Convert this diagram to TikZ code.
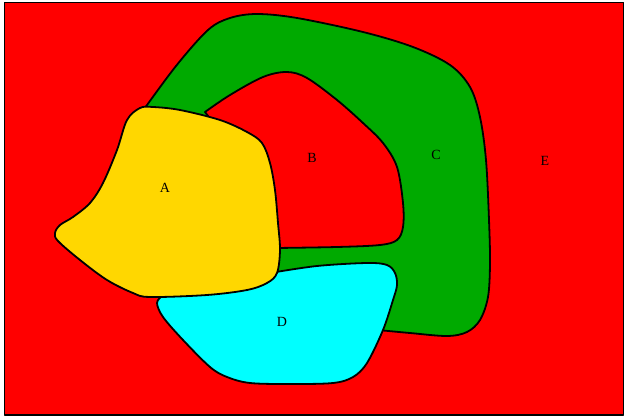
\documentclass[tikz,border=0pt]{standalone}
\usepackage{fontspec}
\setmainfont{Liberation Serif}
\definecolor{regE}{HTML}{FF0000}
\definecolor{regC}{HTML}{00AA00}
\definecolor{regA}{HTML}{FFD700}
\definecolor{regD}{HTML}{00FFFF}
\tikzset{
  region/.style={draw=black, line width=1.8pt, line join=round},
  lbl/.style={font=\fontsize{14}{16}\selectfont, inner sep=0pt},
}
\begin{document}
\begin{tikzpicture}[x=1pt,y=-1pt]
\useasboundingbox (0,0) rectangle (626,417);
% region E (background)
\draw[region, fill=regE] (4.5,2.5) rectangle (623.5,415);
% region C
\draw[region, fill=regC] plot[smooth, tension=0.55] coordinates {
  (142,112) (176,66) (208,30) (230,18) (257,14) (297,18) (363,32)
  (413,47) (450,65) (470,87) (480,117) (486,160) (489,220) (490,263)
  (488,297) (480,320) (467,332) (447,336) (410,333) (378,330)}
  -- (300,290) -- (240,250) -- (150,130) -- cycle;
% region B
\draw[region, fill=regE] plot[smooth, tension=0.55] coordinates {
  (205,112) (230,95) (263,77) (287,72) (307,78) (337,100) (363,123)
  (383,143) (397,167) (403,203) (403,227) (397,240) (380,245) (337,247)
  (276,248)}
  -- (250,200) -- (215,125) -- cycle;
% region D
\draw[region, fill=regD] plot[smooth, tension=0.55] coordinates {
  (270,273) (317,266) (367,263) (387,265) (395,273) (397,285) (393,300)
  (383,330) (367,363) (353,377) (333,383) (290,384) (250,383) (227,377)
  (210,367) (183,340) (163,317) (157,303) (162,296)} -- cycle;
% region A
\draw[region, fill=regA] plot[smooth cycle, tension=0.55] coordinates {
  (140,108) (153,107) (180,110) (220,120) (247,132) (262,143) (270,163)
  (275,190) (278,223) (280,250) (277,273) (267,283) (247,290) (207,295)
  (150,297) (133,293) (107,280) (80,260) (58,241) (55,233) (60,225)
  (73,217) (90,203) (103,183) (117,150) (127,120)};
% labels
\node[lbl] (la) at (165,188) {A};
\node[lbl] (lb) at (312,158) {B};
\node[lbl] (lc) at (436,155) {C};
\node[lbl] (ld) at (282,322) {D};
\node[lbl] (le) at (545,161) {E};
\end{tikzpicture}
\end{document}
